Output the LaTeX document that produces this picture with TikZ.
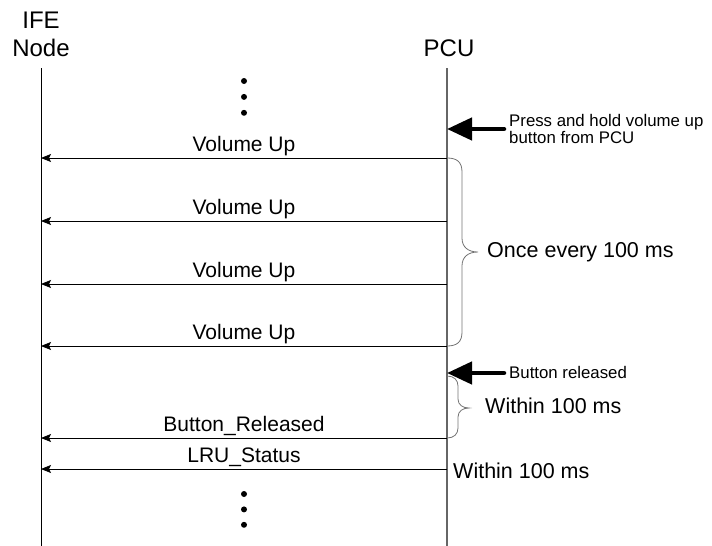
\documentclass[tikz,border=0pt]{standalone}
\usepackage{fontspec}
\setmainfont{Liberation Sans}
\usetikzlibrary{positioning}
\usetikzlibrary{arrows.meta}
\tikzset{head/.style = {font=\fontsize{24}{28}\selectfont, align=center, inner sep=0pt}}
\tikzset{msg/.style = {font=\fontsize{21}{21}\selectfont, anchor=base, inner sep=0pt, yshift=7pt}}
\tikzset{note/.style = {font=\fontsize{16.8}{16.5}\selectfont, align=left, inner sep=0pt}}
\tikzset{remark/.style = {font=\fontsize{21.5}{21.5}\selectfont, anchor=base west, inner sep=0pt}}
\tikzset{call/.style = {line width=0.8pt, -{Stealth[length=10pt,width=8pt,inset=2pt]}}}
\tikzset{event/.style = {line width=4.5pt, line cap=round, -{Triangle[length=25pt,width=22pt]}}}
\tikzset{lifeline/.style = {line width=0.8pt}}
\tikzset{brace/.style = {line width=0.8pt, black!55}}
\tikzset{dot/.style = {circle, fill, inner sep=0pt, minimum size=6pt}}

\begin{document}
\begin{tikzpicture}[x=1pt,y=-1pt]
\useasboundingbox (0,0) rectangle (712,546);
% lifelines
\node[head,anchor=south](ife) at (41,57) {IFE\\Node};
\node[head,anchor=base](pcu) at (449,56) {PCU};
\coordinate (ifetop) at (41,68);
\coordinate (ifebot) at (41,546);
\coordinate (pcutop) at (447,68);
\coordinate (pcubot) at (447,546);
\draw[lifeline] (ifetop) -- (ifebot);
\draw[lifeline,black!60,line width=1.3pt] (pcutop) -- (pcubot);
\node[dot](u1) at (244,81) {};
\node[dot,below = 9.5pt of u1](u2) {};
\node[dot,below = 9.5pt of u2](u3) {};
% messages
\coordinate (p1) at (447,158); \coordinate (i1) at (41,158);
\coordinate (p2) at (447,221); \coordinate (i2) at (41,221);
\coordinate (p3) at (447,284); \coordinate (i3) at (41,284);
\coordinate (p4) at (447,346); \coordinate (i4) at (41,346);
\coordinate (p5) at (447,438); \coordinate (i5) at (41,438);
\coordinate (p6) at (447,469); \coordinate (i6) at (41,469);
\draw[call] (p1) -- node[msg] {Volume Up} (i1);
\draw[call] (p2) -- node[msg] {Volume Up} (i2);
\draw[call] (p3) -- node[msg] {Volume Up} (i3);
\draw[call] (p4) -- node[msg] {Volume Up} (i4);
\draw[call] (p5) -- node[msg] {Button\_Released} (i5);
\draw[call] (p6) -- node[msg] {LRU\_Status} (i6);
\node[dot](l1) at (244,494) {};
\node[dot,below = 9pt of l1](l2) {};
\node[dot,below = 9pt of l2](l3) {};
% events on the PCU
\coordinate (press) at (447,129);
\coordinate (release) at (447,373);
\node[note,anchor=west](presstxt) at (509,129) {Press and hold volume up\\button from PCU};
\node[note,anchor=base west](releasetxt) at (509,378) {Button released};
\coordinate (presstail) at (504,129);
\coordinate (releasetail) at (504,373);
\draw[event] (presstail) -- (press);
\draw[event] (releasetail) -- (release);
% timing
\coordinate (tip1) at (478,252);
\coordinate (tip2) at (469,408);
\draw[brace] (p1) .. controls (457,158) and (462,162) .. (462,172) -- (462,238)
  .. controls (462,247) and (468,252) .. (tip1)
  .. controls (468,252) and (462,257) .. (462,266) -- (462,332)
  .. controls (462,342) and (457,346) .. (p4);
\draw[brace] (447,376) .. controls (454,376) and (458,380) .. (458,386) -- (458,399)
  .. controls (458,405) and (463,408) .. (tip2)
  .. controls (463,408) and (458,411) .. (458,417) -- (458,428)
  .. controls (458,434) and (454,438) .. (p5);
\node[remark,anchor=west](every) at (487,252) {Once every 100 ms};
\node[remark](within1) at (485,413) {Within 100 ms};
\node[remark](within2) at (453,478) {Within 100 ms};
\end{tikzpicture}
\end{document}
